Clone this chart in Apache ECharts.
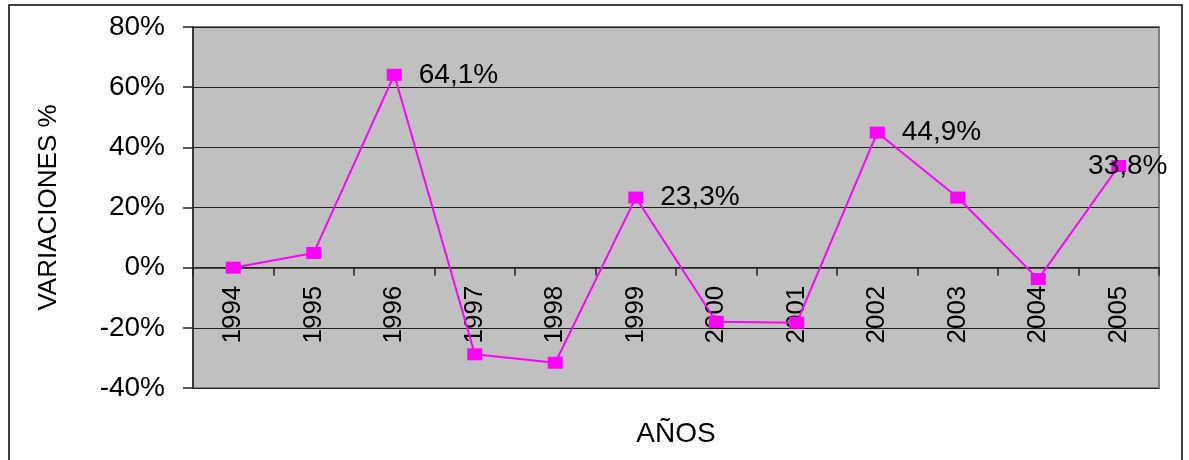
<!DOCTYPE html>
<html>
<head>
<meta charset="utf-8">
<script src="https://cdn.jsdelivr.net/npm/echarts@6/dist/echarts.min.js"></script>
<style>
html,body{margin:0;padding:0;background:#fff;}
#chart{width:1189px;height:460px;}
</style>
</head>
<body>
<div id="chart"></div>
<script>
var years = ['1994','1995','1996','1997','1998','1999','2000','2001','2002','2003','2004','2005'];
var variaciones = [0, 4.9, 64.1, -28.8, -31.6, 23.3, -18.0, -18.3, 44.9, 23.3, -3.8, 33.8];
var labeledYears = ['1996','1999','2002','2005'];
var yTicks = {min: -40, max: 80, interval: 20};

var FONT = '"Liberation Sans", Arial, sans-serif';
var GRID = {left: 193, top: 27, right: 30, bottom: 72};
var plotH = 460 - GRID.top - GRID.bottom;
// move the category axis up to the 0 line
var zeroOffset = -plotH * (0 - yTicks.min) / (yTicks.max - yTicks.min);

var seriesData = variaciones.map(function (v, i) {
  var item = {value: v};
  if (labeledYears.indexOf(years[i]) >= 0) {
    var last = (i === years.length - 1);
    item.label = {
      show: true,
      position: last ? 'inside' : 'right',
      distance: 17,
      offset: last ? [9, 0] : [0, 0],
      formatter: function (p) { return p.value.toFixed(1).replace('.', ',') + '%'; },
      fontSize: 28,
      fontFamily: FONT,
      color: '#000'
    };
  }
  return item;
});

var chart = echarts.init(document.getElementById('chart'));
chart.setOption({
  animation: false,
  backgroundColor: '#fff',
  graphic: [{
    type: 'rect',
    shape: {x: 9, y: 5, width: 1173, height: 470},
    style: {fill: 'none', stroke: '#000', lineWidth: 1.5},
    z: -10
  }],
  grid: {
    left: GRID.left, top: GRID.top, right: GRID.right, bottom: GRID.bottom,
    containLabel: false,
    outerBoundsMode: 'none',
    show: true,
    backgroundColor: '#C0C0C0',
    borderColor: '#808080',
    borderWidth: 2
  },
  xAxis: {
    type: 'category',
    data: years,
    boundaryGap: true,
    position: 'bottom',
    offset: zeroOffset,
    name: 'AÑOS',
    nameLocation: 'middle',
    nameGap: 153,
    nameTextStyle: {fontSize: 28, fontFamily: FONT, color: '#000'},
    axisLine: {show: true, onZero: false, lineStyle: {color: '#222', width: 1.5}},
    axisTick: {show: true, interval: 0, length: 8, alignWithLabel: false, lineStyle: {color: '#222', width: 1.5}},
    axisLabel: {
      interval: 0,
      rotate: 90,
      margin: 18,
      fontSize: 26,
      fontFamily: FONT,
      color: '#000'
    },
    splitLine: {show: false}
  },
  yAxis: {
    type: 'value',
    min: yTicks.min,
    max: yTicks.max,
    interval: yTicks.interval,
    name: 'VARIACIONES %',
    nameLocation: 'middle',
    nameGap: 131,
    nameRotate: 90,
    nameTextStyle: {fontSize: 26, fontFamily: FONT, color: '#000'},
    axisLine: {show: true, lineStyle: {color: '#222', width: 1.5}},
    axisTick: {show: true, length: 10, lineStyle: {color: '#222', width: 1.5}},
    axisLabel: {
      formatter: '{value}%',
      margin: 28,
      fontSize: 28,
      fontFamily: FONT,
      color: '#000'
    },
    splitLine: {show: true, lineStyle: {color: '#222', width: 1}}
  },
  series: [{
    type: 'line',
    data: seriesData,
    symbol: 'rect',
    symbolSize: [15, 12],
    lineStyle: {color: '#FF00FF', width: 2},
    itemStyle: {color: '#FF00FF'},
    label: {show: false}
  }]
});
</script>
</body>
</html>
